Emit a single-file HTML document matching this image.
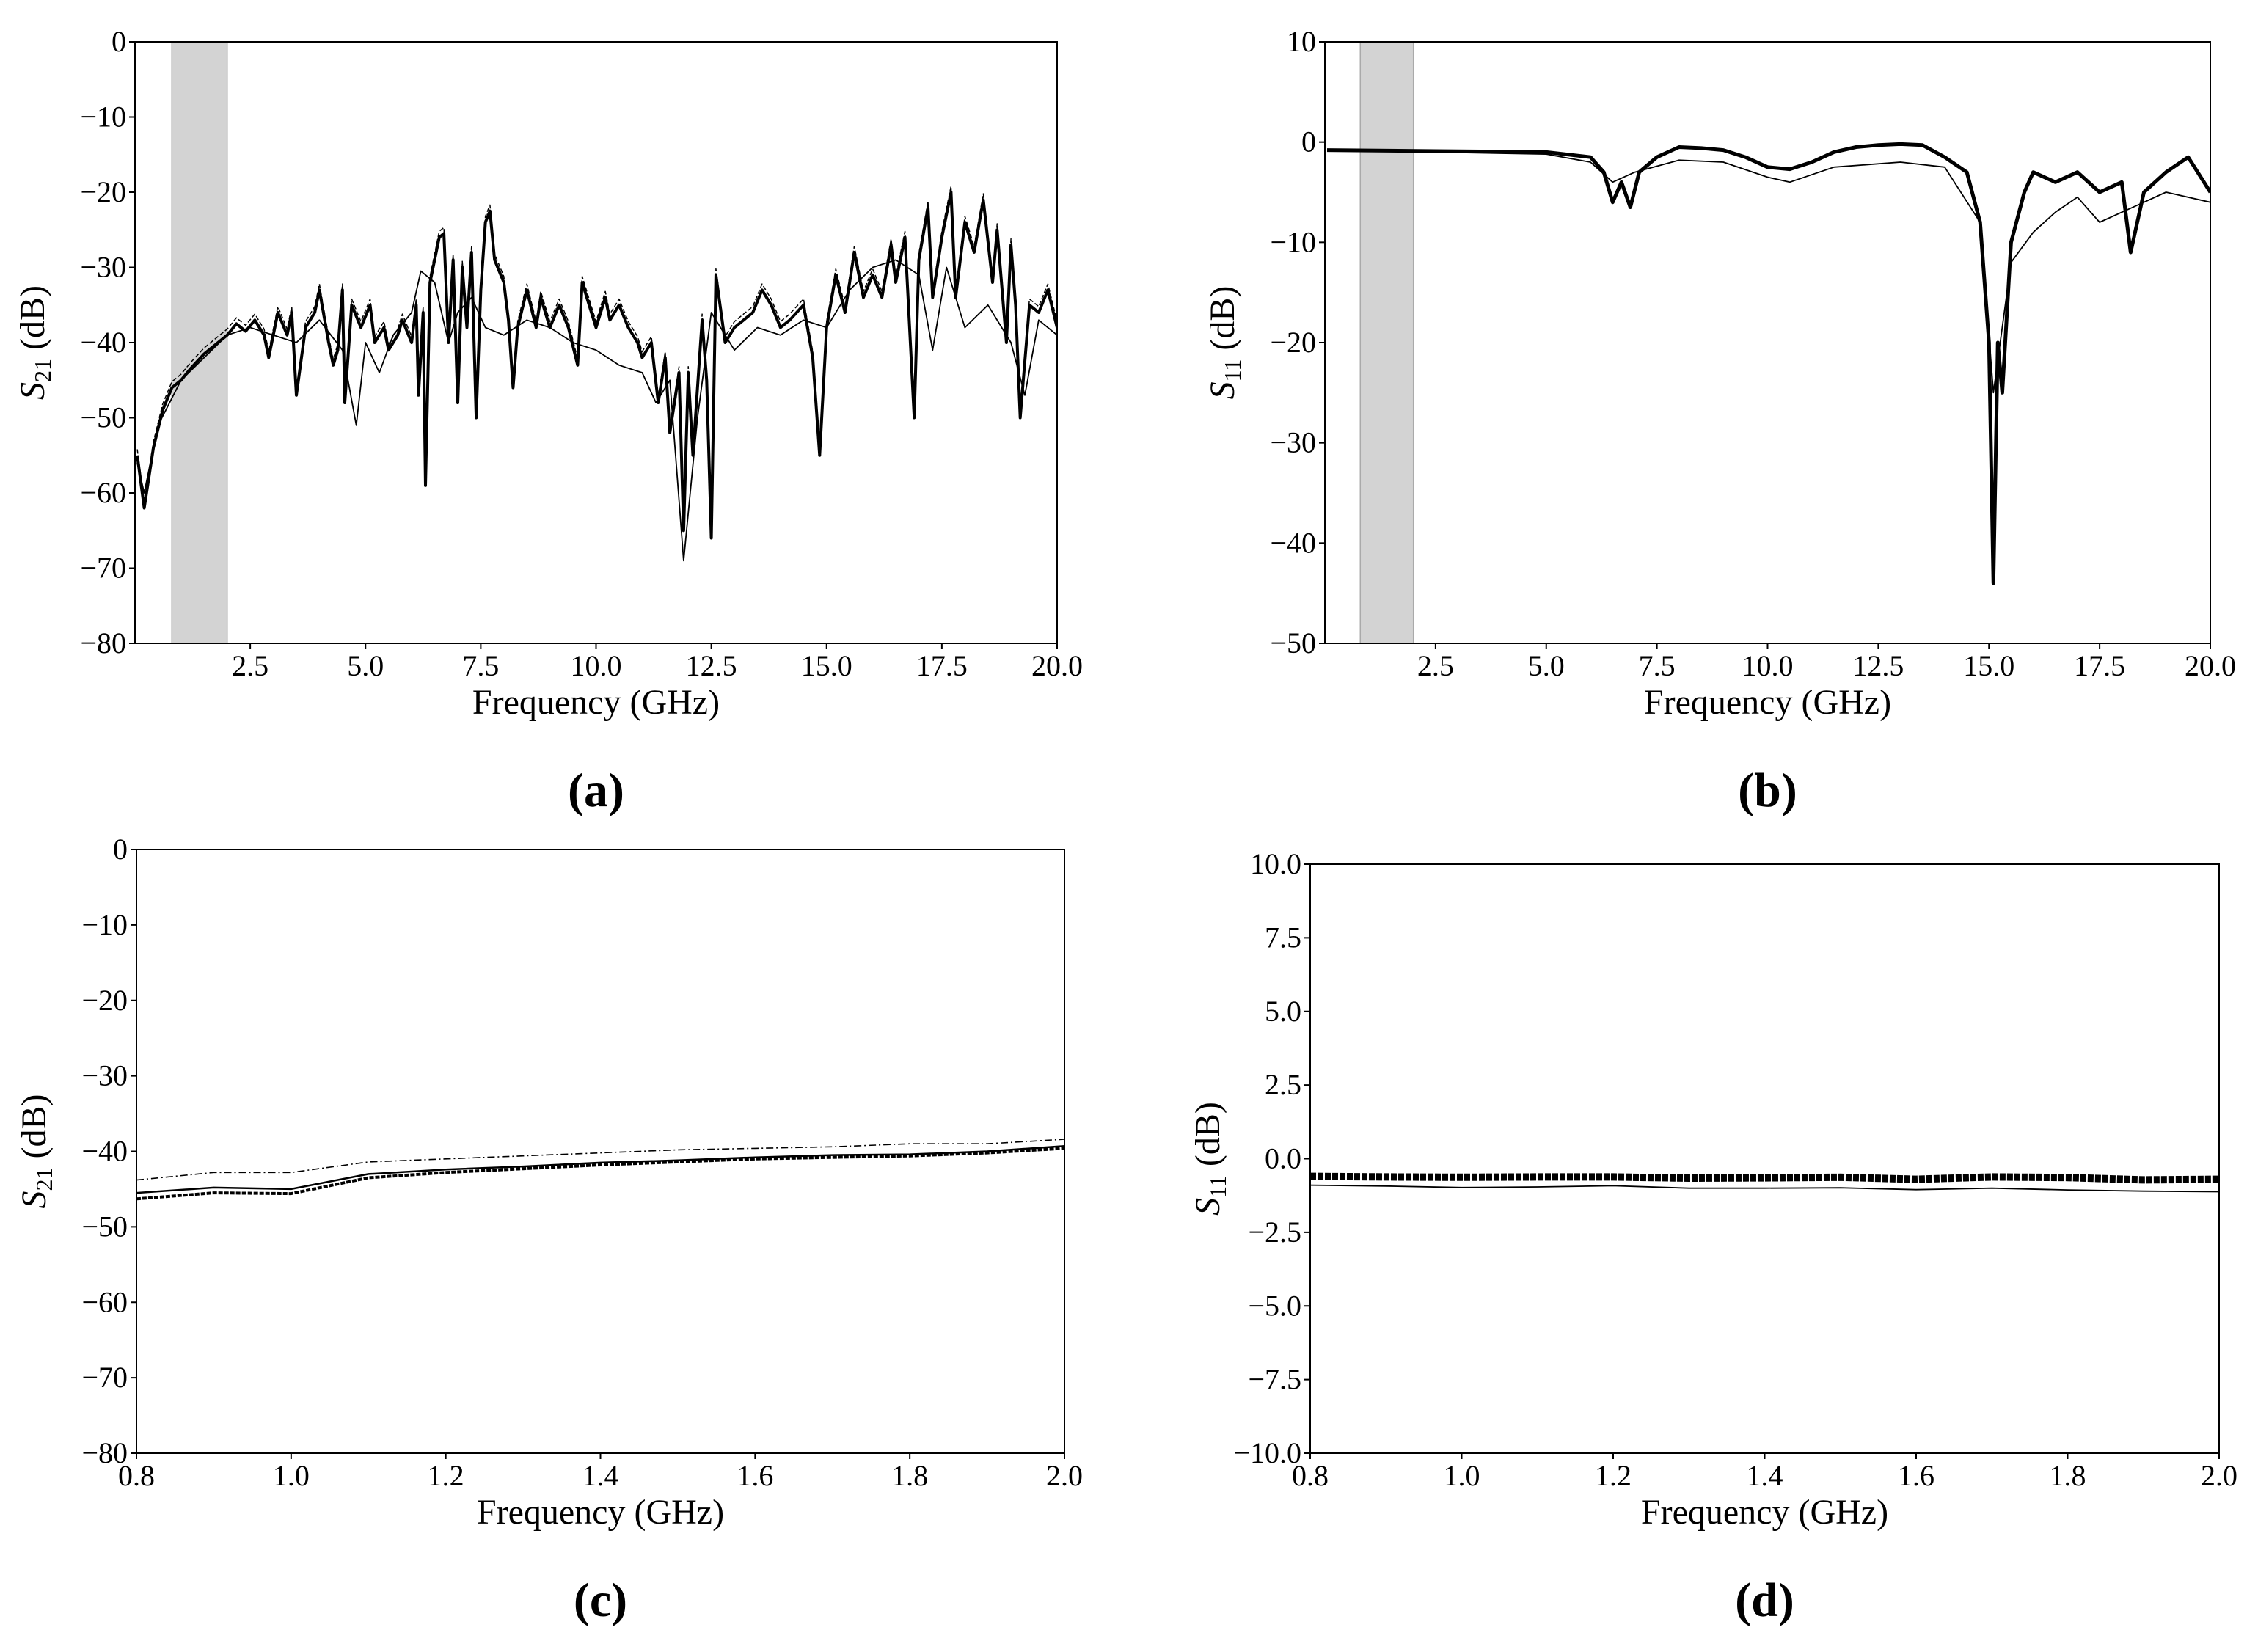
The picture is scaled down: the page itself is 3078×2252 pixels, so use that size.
<!DOCTYPE html>
<html><head><meta charset="utf-8"><style>
html,body{margin:0;padding:0;background:#fff}
svg{display:block}
text{font-family:"Liberation Serif",serif;fill:#000}
</style></head><body>
<svg id="fig" width="3078" height="2252" viewBox="0 0 3078 2252" xmlns="http://www.w3.org/2000/svg"></svg>
<script>
// ---- data ----
const aFreq = [0.05,0.2,0.4,0.6,0.8,1.0,1.2,1.5,1.8,2.0,2.2,2.4,2.6,2.8,2.9,3.1,3.3,3.4,3.5,3.7,3.9,4.0,4.2,4.3,4.4,4.5,4.55,4.7,4.9,5.1,5.2,5.4,5.5,5.7,5.8,6.0,6.1,6.15,6.25,6.3,6.4,6.6,6.7,6.8,6.9,7.0,7.1,7.2,7.3,7.4,7.5,7.6,7.7,7.8,8.0,8.1,8.2,8.3,8.5,8.7,8.8,9.0,9.2,9.4,9.6,9.7,9.9,10.0,10.2,10.3,10.5,10.7,10.9,11.0,11.2,11.35,11.5,11.6,11.8,11.9,12.0,12.1,12.3,12.4,12.5,12.6,12.8,13.0,13.2,13.4,13.6,13.8,14.0,14.2,14.5,14.7,14.85,15.0,15.2,15.4,15.6,15.8,16.0,16.2,16.4,16.5,16.7,16.9,17.0,17.2,17.3,17.5,17.7,17.8,18.0,18.2,18.4,18.6,18.7,18.9,19.0,19.1,19.2,19.4,19.6,19.8,20.0];
const aMain = [-55,-62,-54,-49,-46,-45,-43.5,-41.5,-40,-39,-37.5,-38.5,-37,-39,-42,-36,-39,-36,-47,-38,-36,-33,-40,-43,-41,-33,-48,-35,-38,-35,-40,-38,-41,-39,-37,-40,-35,-47,-36,-59,-32,-26,-25.5,-40,-29,-48,-30,-38,-28,-50,-33,-24,-22.5,-29,-32,-37,-46,-38,-33,-38,-34,-38,-35,-38,-43,-32,-36,-38,-34,-37,-35,-38,-40,-42,-40,-48,-42,-52,-44,-65,-44,-55,-37,-45,-66,-31,-40,-38,-37,-36,-33,-35,-38,-37,-35,-42,-55,-38,-31,-36,-28,-34,-31,-34,-27,-32,-26,-50,-29,-22,-34,-26,-20,-34,-24,-28,-21,-32,-25,-40,-27,-35,-50,-35,-36,-33,-38];
const aThinFreq = [0.05,0.2,0.5,1.0,1.5,2.0,2.5,3.0,3.5,4.0,4.5,4.8,5.0,5.3,5.6,6.0,6.2,6.5,6.8,7.0,7.3,7.6,8.0,8.5,9.0,9.5,10.0,10.5,11.0,11.3,11.6,11.9,12.2,12.5,13.0,13.5,14.0,14.5,15.0,15.5,16.0,16.5,17.0,17.3,17.6,18.0,18.5,19.0,19.3,19.6,20.0];
const aThin = [-56,-60,-51,-45,-42,-39,-38,-39,-40,-37,-41,-51,-40,-44,-39,-36,-30.5,-32,-40,-36,-34,-38,-39,-37,-38,-40,-41,-43,-44,-48,-45,-69,-50,-36,-41,-38,-39,-37,-38,-33,-30,-29,-31,-41,-30,-38,-35,-40,-47,-37,-39];
const bFreq = [0.05,2.5,5,6,6.3,6.5,6.7,6.9,7.1,7.5,8,8.5,9,9.5,10,10.5,11,11.5,12,12.5,13,13.5,14,14.5,14.8,15.0,15.1,15.2,15.3,15.5,15.8,16,16.5,17,17.5,18,18.2,18.5,19,19.5,20];
const bMain = [-0.8,-0.9,-1,-1.5,-3,-6,-4,-6.5,-3,-1.5,-0.5,-0.6,-0.8,-1.5,-2.5,-2.7,-2,-1,-0.5,-0.3,-0.2,-0.3,-1.5,-3,-8,-20,-44,-20,-25,-10,-5,-3,-4,-3,-5,-4,-11,-5,-3,-1.5,-5];
const bThinFreq = [0.05,5,6,6.5,7,8,9,10,10.5,11.5,13,14,14.8,15.1,15.5,16,16.5,17,17.5,18,18.5,19,20];
const bThin = [-0.8,-1.2,-2,-4,-3,-1.8,-2,-3.5,-4,-2.5,-2,-2.5,-8,-25,-12,-9,-7,-5.5,-8,-7,-6,-5,-6];
const cFreq = [0.8,0.9,1.0,1.1,1.2,1.3,1.4,1.5,1.6,1.7,1.8,1.9,2.0];
const cTop = [-43.8,-42.8,-42.8,-41.4,-41,-40.6,-40.2,-39.8,-39.6,-39.4,-39,-39,-38.4];
const cMid = [-45.5,-44.8,-45,-43,-42.4,-42,-41.5,-41.2,-40.8,-40.5,-40.4,-40,-39.3];
const cLow = [-46.3,-45.5,-45.6,-43.5,-42.8,-42.3,-41.8,-41.4,-41,-40.8,-40.6,-40.2,-39.6];
const dBand = [-0.6,-0.62,-0.63,-0.62,-0.62,-0.66,-0.65,-0.63,-0.7,-0.62,-0.64,-0.72,-0.7];
const dThin = [-0.9,-0.93,-0.98,-0.96,-0.92,-1.0,-1.0,-0.99,-1.05,-1.0,-1.06,-1.1,-1.12];
const xTicksWide = [2.5,5.0,7.5,10.0,12.5,15.0,17.5,20.0];
const xTicksNarrow = [0.8,1.0,1.2,1.4,1.6,1.8,2.0];
const yTicksA = [0,-10,-20,-30,-40,-50,-60,-70,-80];
const yTicksB = [10,0,-10,-20,-30,-40,-50];
const yTicksD = [10,7.5,5,2.5,0,-2.5,-5,-7.5,-10];
const shadeBand = [0.8,2.0];

const NS='http://www.w3.org/2000/svg';
const svg=document.getElementById('fig');
function el(tag,attrs,parent){const e=document.createElementNS(NS,tag);for(const k in attrs)e.setAttribute(k,attrs[k]);(parent||svg).appendChild(e);return e;}
function fmt(v,dec){let s=v.toFixed(dec);if(v<0)s='\u2212'+s.slice(1);return s;}

function panel(id,box,xr,yr,xticks,xdec,yticks,ydec,ylabelSub,label,shade,series){
  const g=el('g',{});
  
  
  const [L,T,R,B]=box;
  const X=v=>L+(v-xr[0])/(xr[1]-xr[0])*(R-L);
  const Y=v=>T+(yr[1]-v)/(yr[1]-yr[0])*(B-T);
  if(shade){const r=el('rect',{x:X(shade[0]),y:T,width:X(shade[1])-X(shade[0]),height:B-T,fill:'#d3d3d3',stroke:'#aaa','stroke-width':1.5},g);
    }
  const clip=el('clipPath',{id:'clip'+id},g);el('rect',{x:L,y:T,width:R-L,height:B-T},clip);
  const sg=el('g',{'clip-path':'url(#clip'+id+')'},g);
  series.forEach(s=>{
    const d=s.x.map((v,i)=>(i?'L':'M')+X(v).toFixed(1)+','+Y(s.y[i]).toFixed(1)).join('');
    const p=el('path',{d:d,fill:'none',stroke:'#000','stroke-width':s.w,'stroke-dasharray':s.dash||'none','stroke-linejoin':'round'},sg);
    
  });
  const fr=el('rect',{x:L,y:T,width:R-L,height:B-T,fill:'none',stroke:'#000','stroke-width':2},g);
  
  xticks.forEach(t=>{const x=X(t);el('line',{x1:x,y1:B,x2:x,y2:B+8,stroke:'#000','stroke-width':2},g);
    const tx=el('text',{x:x,y:B+44,'font-size':40,'text-anchor':'middle'},g);tx.textContent=fmt(t,xdec);
    });
  yticks.forEach(t=>{const y=Y(t);el('line',{x1:L-8,y1:y,x2:L,y2:y,stroke:'#000','stroke-width':2},g);
    const tx=el('text',{x:L-12,y:y+13,'font-size':40,'text-anchor':'end'},g);tx.textContent=fmt(t,ydec);
    });
  const xl=el('text',{x:(L+R)/2,y:B+96,'font-size':48,'text-anchor':'middle'},g);xl.textContent='Frequency (GHz)';
  
  const yx=L-124, yy=(T+B)/2;
  const yl=el('text',{x:yx,y:yy,'font-size':48,'text-anchor':'middle',transform:'rotate(-90 '+yx+' '+yy+')'},g);
  
  const s1=el('tspan',{'font-style':'italic'},yl);s1.textContent='S';
  const s2=el('tspan',{'font-size':32,dy:9},yl);s2.textContent=ylabelSub;
  const s3=el('tspan',{dy:-9},yl);s3.textContent=' (dB)';
  const pl=el('text',{x:(L+R)/2,y:B+222,'font-size':66,'font-weight':'bold','text-anchor':'middle'},g);pl.textContent=label;
  
}

panel('a',[184,57,1441,877],[0,20],[-80,0],xTicksWide,1,yTicksA,0,'21','(a)',shadeBand,[
  {x:aThinFreq,y:aThin,w:1.8,name:'s21-outlier-line'},
  {x:aFreq,y:aMain.map(v=>v+0.8),w:1.5,dash:'6 3',name:'s21-dashed-line'},
  {x:aFreq,y:aMain,w:4,name:'s21-line-bundle'}]);
panel('b',[1806,57,3013,877],[0,20],[-50,10],xTicksWide,1,yTicksB,0,'11','(b)',shadeBand,[
  {x:bThinFreq,y:bThin,w:1.8,name:'s11-outlier-line'},
  {x:bFreq,y:bMain,w:5,name:'s11-line-bundle'}]);
panel('c',[186,1158,1451,1981],[0.8,2.0],[-80,0],xTicksNarrow,1,yTicksA,0,'21','(c)',null,[
  {x:cFreq,y:cTop,w:1.6,dash:'10 4 2 4',name:'s21-top-line'},
  {x:cFreq,y:cMid,w:2.5,name:'s21-mid-line'},
  {x:cFreq,y:cLow,w:4,dash:'6 2',name:'s21-low-bundle'}]);
panel('d',[1786,1178,3025,1981],[0.8,2.0],[-10,10],xTicksNarrow,1,yTicksD,1,'11','(d)',null,[
  {x:cFreq,y:dThin,w:1.8,name:'s11-outlier-line'},
  {x:cFreq,y:dBand,w:10,dash:'8 2',name:'s11-line-bundle'}]);
</script>
</body></html>
